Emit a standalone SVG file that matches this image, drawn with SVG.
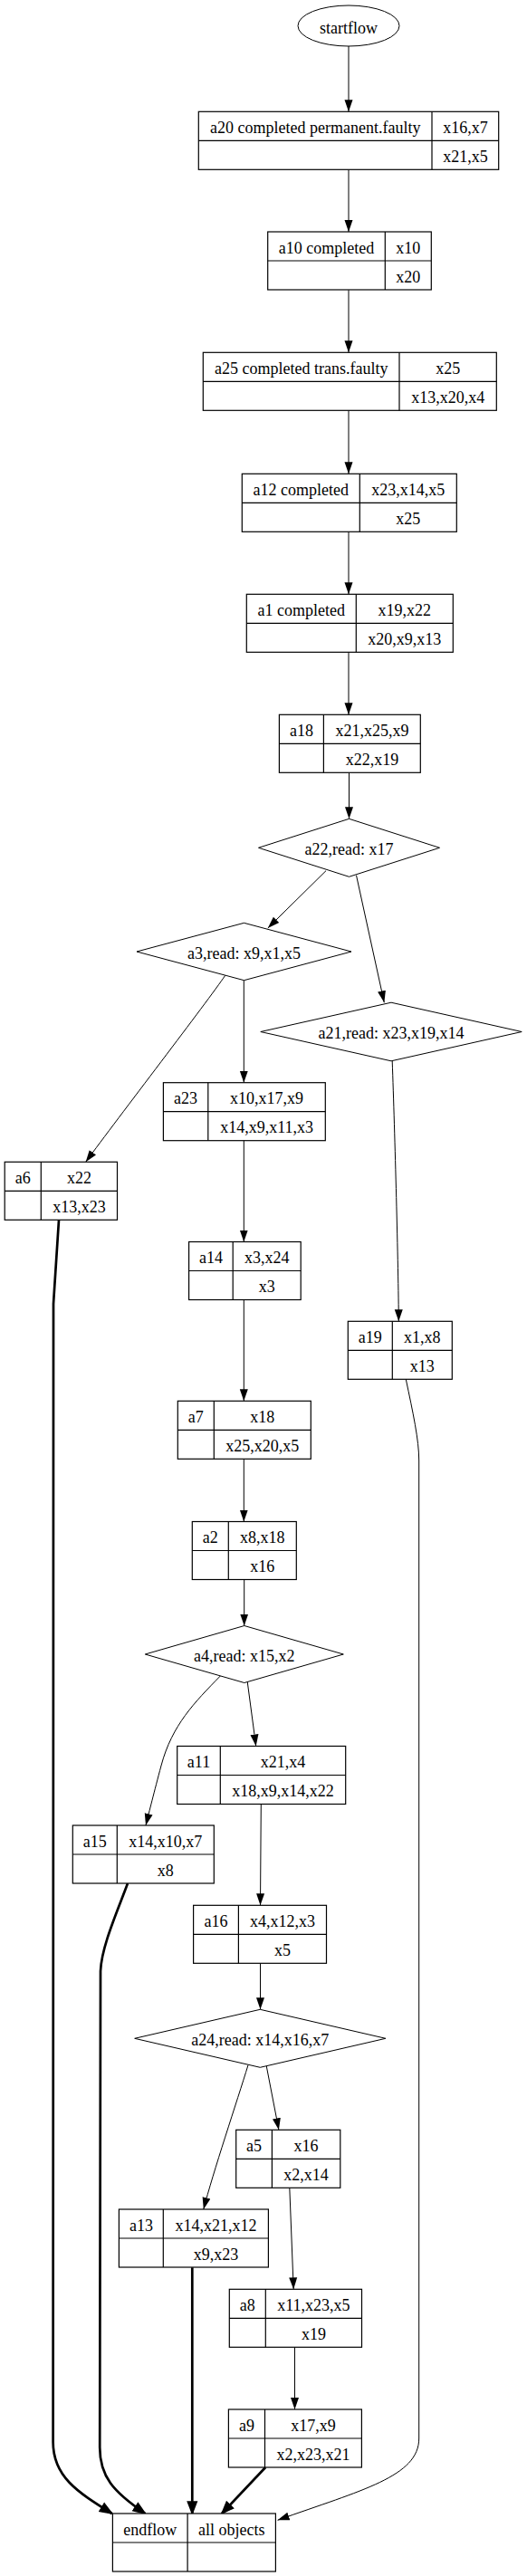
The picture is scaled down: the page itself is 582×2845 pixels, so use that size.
<svg xmlns="http://www.w3.org/2000/svg" width="582" height="2845" viewBox="0 0 582 2845">
<style>
.box{fill:#fff;stroke:#000;stroke-width:1.2}
.dv{stroke:#000;stroke-width:1.2}
.dia{fill:#fff;stroke:#000;stroke-width:1}
.t{font-family:"Liberation Serif","Times New Roman",serif;font-size:18px;text-anchor:middle;fill:#000}
.e{fill:none;stroke:#000;stroke-width:1;marker-end:url(#ah)}
.eb{fill:none;stroke:#000;stroke-width:2.7;marker-end:url(#ahb)}
</style>
<defs>
<marker id="ah" markerUnits="userSpaceOnUse" markerWidth="14" markerHeight="11" refX="13" refY="5" orient="auto" viewBox="0 0 14 10">
<path d="M0,0.5 L13,5 L0,9.5 z" fill="#000"/>
</marker>
<marker id="ahb" markerUnits="userSpaceOnUse" markerWidth="16" markerHeight="14" refX="13" refY="6" orient="auto" viewBox="-1 -1 16 14">
<path d="M0,1 L13,6 L0,11 z" fill="#000" stroke="#000" stroke-width="1.5"/>
</marker>
</defs>
<rect width="582" height="2845" fill="#fff"/>
<g id="connectors">
<path class="e" d="M385,50.5 L385,123.3"/>
<path class="e" d="M385,187.3 L385,256"/>
<path class="e" d="M385,320.3 L385,389.3"/>
<path class="e" d="M385,453.3 L385,523.3"/>
<path class="e" d="M385,587.3 L385,656.3"/>
<path class="e" d="M385,720.3 L385,789.3"/>
<path class="e" d="M385.5,853.3 L385.5,904.3"/>
<path class="e" d="M360,961.7 L295.8,1025"/>
<path class="e" d="M393.5,966.7 L424.3,1107.3"/>
<path class="e" d="M248.7,1077.3 C230,1105 130,1235 94.7,1283.3"/>
<path class="e" d="M269.3,1082.7 L269.3,1195.7"/>
<path class="e" d="M433.2,1171.8 C436,1250 440,1400 440.3,1459.3"/>
<path class="e" d="M269.3,1259.7 L269.3,1371.5"/>
<path class="e" d="M269.3,1435.5 L269.3,1547.3"/>
<path class="e" d="M269.3,1611.3 L269.3,1680.5"/>
<path class="e" d="M269.7,1744.5 L269.7,1795.5"/>
<path class="e" d="M273.3,1858 L282.7,1928.5"/>
<path class="e" d="M243.3,1851 C215,1880 190,1905 178,1950 C170,1980 165,2000 161,2016"/>
<path class="e" d="M288.3,1992.5 L287.5,2104.3"/>
<path class="e" d="M287.5,2168.3 L287.5,2219.3"/>
<path class="e" d="M294.3,2282 L307.9,2352.3"/>
<path class="e" d="M274,2280.7 C262,2320 235,2400 224.8,2440"/>
<path class="e" d="M319.8,2416.3 L324.2,2528.3"/>
<path class="e" d="M325.5,2592.3 L325.5,2661"/>
<path class="e" d="M448.3,1523.3 C456,1560 462.7,1590 462.7,1613 L462.7,2693 C462.7,2735 400,2750 306.6,2783.3"/>
<path class="eb" d="M65,1347.3 L59,1440 L58.6,2697 C58.6,2735 85,2752 123.6,2776"/>
<path class="eb" d="M141,2080 C130,2110 112,2150 111,2177 L110.2,2703 C110.2,2735 125,2752 160.4,2776"/>
<path class="eb" d="M212.3,2504.3 L212.3,2776"/>
<path class="eb" d="M293.2,2725 L245,2776"/>
</g>
<g id="startflow">
<ellipse cx="385" cy="28.5" rx="56" ry="22.5" fill="#fff" stroke="#000" stroke-width="1"/>
<text class="t" x="385" y="37">startflow</text>
</g>
<g id="a20">
<rect class="box" x="219.3" y="123.3" width="331.4" height="64"/>
<line class="dv" x1="219.3" y1="155.3" x2="550.7" y2="155.3"/>
<line class="dv" x1="477" y1="123.3" x2="477" y2="187.3"/>
<text class="t" x="348.2" y="146.8">a20 completed permanent.faulty</text>
<text class="t" x="513.9" y="146.8">x16,x7</text>
<text class="t" x="513.9" y="178.8">x21,x5</text>
</g>
<g id="a10">
<rect class="box" x="295.7" y="256" width="180.6" height="64"/>
<line class="dv" x1="295.7" y1="288" x2="476.3" y2="288"/>
<line class="dv" x1="425.3" y1="256" x2="425.3" y2="320"/>
<text class="t" x="360.5" y="279.5">a10 completed</text>
<text class="t" x="450.8" y="279.5">x10</text>
<text class="t" x="450.8" y="311.5">x20</text>
</g>
<g id="a25">
<rect class="box" x="224.3" y="389.3" width="324" height="64"/>
<line class="dv" x1="224.3" y1="421.3" x2="548.3" y2="421.3"/>
<line class="dv" x1="441" y1="389.3" x2="441" y2="453.3"/>
<text class="t" x="332.7" y="412.8">a25 completed trans.faulty</text>
<text class="t" x="494.7" y="412.8">x25</text>
<text class="t" x="494.7" y="444.8">x13,x20,x4</text>
</g>
<g id="a12">
<rect class="box" x="267.3" y="523.3" width="237" height="64"/>
<line class="dv" x1="267.3" y1="555.3" x2="504.3" y2="555.3"/>
<line class="dv" x1="397.3" y1="523.3" x2="397.3" y2="587.3"/>
<text class="t" x="332.3" y="546.8">a12 completed</text>
<text class="t" x="450.8" y="546.8">x23,x14,x5</text>
<text class="t" x="450.8" y="578.8">x25</text>
</g>
<g id="a1">
<rect class="box" x="272.3" y="656.3" width="228" height="64"/>
<line class="dv" x1="272.3" y1="688.3" x2="500.3" y2="688.3"/>
<line class="dv" x1="393.3" y1="656.3" x2="393.3" y2="720.3"/>
<text class="t" x="332.8" y="679.8">a1 completed</text>
<text class="t" x="446.8" y="679.8">x19,x22</text>
<text class="t" x="446.8" y="711.8">x20,x9,x13</text>
</g>
<g id="a18">
<rect class="box" x="308.4" y="789.3" width="155.9" height="64"/>
<line class="dv" x1="308.4" y1="821.3" x2="464.3" y2="821.3"/>
<line class="dv" x1="357.4" y1="789.3" x2="357.4" y2="853.3"/>
<text class="t" x="332.9" y="812.8">a18</text>
<text class="t" x="410.9" y="812.8">x21,x25,x9</text>
<text class="t" x="410.9" y="844.8">x22,x19</text>
</g>
<g id="a22">
<polygon class="dia" points="285.5,936.3 385.5,904.3 485.5,936.3 385.5,968.3"/>
<text class="t" x="385.5" y="943.8">a22,read: x17</text>
</g>
<g id="a3">
<polygon class="dia" points="151,1051 269.5,1019.3 388,1051 269.5,1082.7"/>
<text class="t" x="269.5" y="1058.5">a3,read: x9,x1,x5</text>
</g>
<g id="a21">
<polygon class="dia" points="287.8,1139.5 432,1107.2 576.2,1139.5 432,1171.8"/>
<text class="t" x="432" y="1147">a21,read: x23,x19,x14</text>
</g>
<g id="a23">
<rect class="box" x="180.4" y="1195.7" width="178.9" height="64"/>
<line class="dv" x1="180.4" y1="1227.7" x2="359.3" y2="1227.7"/>
<line class="dv" x1="229.8" y1="1195.7" x2="229.8" y2="1259.7"/>
<text class="t" x="205.1" y="1219.2">a23</text>
<text class="t" x="294.6" y="1219.2">x10,x17,x9</text>
<text class="t" x="294.6" y="1251.2">x14,x9,x11,x3</text>
</g>
<g id="a6">
<rect class="box" x="5.2" y="1283.3" width="124.3" height="64"/>
<line class="dv" x1="5.2" y1="1315.3" x2="129.5" y2="1315.3"/>
<line class="dv" x1="45.3" y1="1283.3" x2="45.3" y2="1347.3"/>
<text class="t" x="25.3" y="1306.8">a6</text>
<text class="t" x="87.4" y="1306.8">x22</text>
<text class="t" x="87.4" y="1338.8">x13,x23</text>
</g>
<g id="a14">
<rect class="box" x="208.6" y="1371.5" width="123.6" height="64"/>
<line class="dv" x1="208.6" y1="1403.5" x2="332.2" y2="1403.5"/>
<line class="dv" x1="257.2" y1="1371.5" x2="257.2" y2="1435.5"/>
<text class="t" x="232.9" y="1395">a14</text>
<text class="t" x="294.7" y="1395">x3,x24</text>
<text class="t" x="294.7" y="1427">x3</text>
</g>
<g id="a19">
<rect class="box" x="384.3" y="1459.3" width="115" height="64"/>
<line class="dv" x1="384.3" y1="1491.3" x2="499.3" y2="1491.3"/>
<line class="dv" x1="433.3" y1="1459.3" x2="433.3" y2="1523.3"/>
<text class="t" x="408.8" y="1482.8">a19</text>
<text class="t" x="466.3" y="1482.8">x1,x8</text>
<text class="t" x="466.3" y="1514.8">x13</text>
</g>
<g id="a7">
<rect class="box" x="196.3" y="1547.3" width="147" height="64"/>
<line class="dv" x1="196.3" y1="1579.3" x2="343.3" y2="1579.3"/>
<line class="dv" x1="236.3" y1="1547.3" x2="236.3" y2="1611.3"/>
<text class="t" x="216.3" y="1570.8">a7</text>
<text class="t" x="289.8" y="1570.8">x18</text>
<text class="t" x="289.8" y="1602.8">x25,x20,x5</text>
</g>
<g id="a2">
<rect class="box" x="212.3" y="1680.5" width="115" height="64"/>
<line class="dv" x1="212.3" y1="1712.5" x2="327.3" y2="1712.5"/>
<line class="dv" x1="252.3" y1="1680.5" x2="252.3" y2="1744.5"/>
<text class="t" x="232.3" y="1704">a2</text>
<text class="t" x="289.8" y="1704">x8,x18</text>
<text class="t" x="289.8" y="1736">x16</text>
</g>
<g id="a4">
<polygon class="dia" points="160.3,1827 269.8,1795.5 379.3,1827 269.8,1858.5"/>
<text class="t" x="269.8" y="1834.5">a4,read: x15,x2</text>
</g>
<g id="a11">
<rect class="box" x="195.7" y="1928.5" width="186" height="64"/>
<line class="dv" x1="195.7" y1="1960.5" x2="381.7" y2="1960.5"/>
<line class="dv" x1="243.3" y1="1928.5" x2="243.3" y2="1992.5"/>
<text class="t" x="219.5" y="1952">a11</text>
<text class="t" x="312.5" y="1952">x21,x4</text>
<text class="t" x="312.5" y="1984">x18,x9,x14,x22</text>
</g>
<g id="a15">
<rect class="box" x="80.3" y="2016" width="156" height="64"/>
<line class="dv" x1="80.3" y1="2048" x2="236.3" y2="2048"/>
<line class="dv" x1="129.3" y1="2016" x2="129.3" y2="2080"/>
<text class="t" x="104.8" y="2039.5">a15</text>
<text class="t" x="182.8" y="2039.5">x14,x10,x7</text>
<text class="t" x="182.8" y="2071.5">x8</text>
</g>
<g id="a16">
<rect class="box" x="213.6" y="2104.3" width="146.9" height="64"/>
<line class="dv" x1="213.6" y1="2136.3" x2="360.5" y2="2136.3"/>
<line class="dv" x1="263.4" y1="2104.3" x2="263.4" y2="2168.3"/>
<text class="t" x="238.5" y="2127.8">a16</text>
<text class="t" x="312" y="2127.8">x4,x12,x3</text>
<text class="t" x="312" y="2159.8">x5</text>
</g>
<g id="a24">
<polygon class="dia" points="148.7,2251.3 287.3,2219.3 425.9,2251.3 287.3,2283.3"/>
<text class="t" x="287.3" y="2258.8">a24,read: x14,x16,x7</text>
</g>
<g id="a5">
<rect class="box" x="260.7" y="2352.3" width="115.1" height="64"/>
<line class="dv" x1="260.7" y1="2384.3" x2="375.8" y2="2384.3"/>
<line class="dv" x1="300.4" y1="2352.3" x2="300.4" y2="2416.3"/>
<text class="t" x="280.6" y="2375.8">a5</text>
<text class="t" x="338.1" y="2375.8">x16</text>
<text class="t" x="338.1" y="2407.8">x2,x14</text>
</g>
<g id="a13">
<rect class="box" x="131.4" y="2440" width="165" height="64"/>
<line class="dv" x1="131.4" y1="2472" x2="296.4" y2="2472"/>
<line class="dv" x1="180.3" y1="2440" x2="180.3" y2="2504"/>
<text class="t" x="155.9" y="2463.5">a13</text>
<text class="t" x="238.4" y="2463.5">x14,x21,x12</text>
<text class="t" x="238.4" y="2495.5">x9,x23</text>
</g>
<g id="a8">
<rect class="box" x="253.3" y="2528.3" width="146.2" height="64"/>
<line class="dv" x1="253.3" y1="2560.3" x2="399.5" y2="2560.3"/>
<line class="dv" x1="293.3" y1="2528.3" x2="293.3" y2="2592.3"/>
<text class="t" x="273.3" y="2551.8">a8</text>
<text class="t" x="346.4" y="2551.8">x11,x23,x5</text>
<text class="t" x="346.4" y="2583.8">x19</text>
</g>
<g id="a9">
<rect class="box" x="252.4" y="2661" width="147" height="64"/>
<line class="dv" x1="252.4" y1="2693" x2="399.4" y2="2693"/>
<line class="dv" x1="292.5" y1="2661" x2="292.5" y2="2725"/>
<text class="t" x="272.5" y="2684.5">a9</text>
<text class="t" x="346" y="2684.5">x17,x9</text>
<text class="t" x="346" y="2716.5">x2,x23,x21</text>
</g>
<g id="endflow">
<rect class="box" x="124.4" y="2776" width="180" height="64"/>
<line class="dv" x1="124.4" y1="2808" x2="304.4" y2="2808"/>
<line class="dv" x1="207.1" y1="2776" x2="207.1" y2="2840"/>
<text class="t" x="165.8" y="2799.5">endflow</text>
<text class="t" x="255.8" y="2799.5">all objects</text>
</g>
</svg>
